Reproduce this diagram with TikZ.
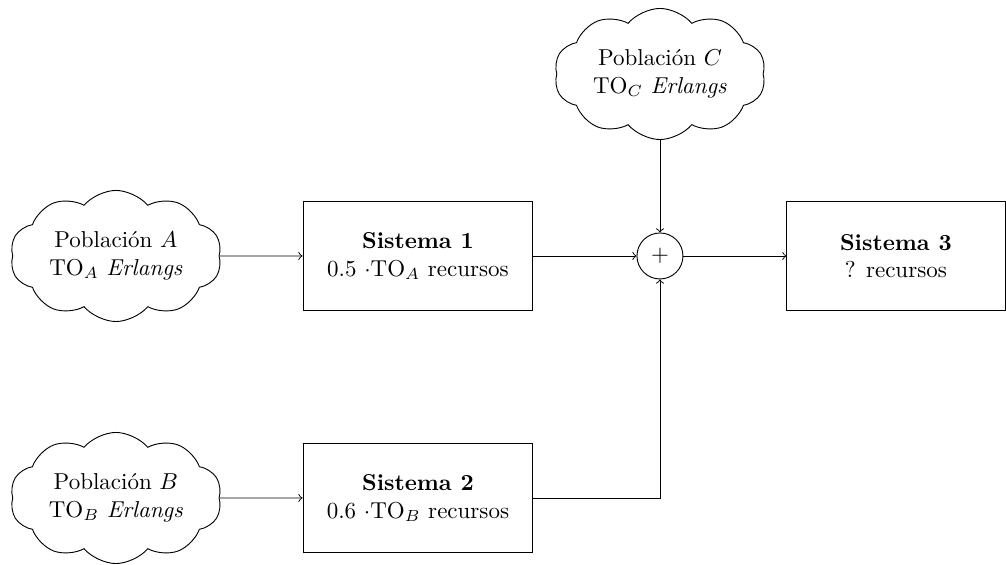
\documentclass[tikz,border=0pt]{standalone}
\usepackage{tikz}
\usetikzlibrary{shapes.symbols}

\tikzset{every picture/.style={line width=0.4pt}}
\tikzset{
	poblacion/.style={draw, cloud, cloud puffs=10, cloud puff arc=100, cloud ignores aspect, minimum width=92pt, minimum height=57pt, inner sep=0pt, align=center},
	sistema/.style={draw, rectangle, minimum width=100pt, minimum height=47pt, align=center},
	sumador/.style={draw, circle, minimum size=20pt, inner sep=0pt}
}

\begin{document}
\begin{tikzpicture}[x=0.75pt,y=0.75pt,yscale=-1,xscale=1]
	\useasboundingbox (0,0) rectangle (583.2,327);
	%Poblaciones
	\node [poblacion] (pobA) at (67.2,148.4) {Población $A$\\ TO$_A$ \textit{Erlangs}};
	\node [poblacion] (pobB) at (67.2,288.7) {Población $B$\\ TO$_B$ \textit{Erlangs}};
	\node [poblacion] (pobC) at (382.6,42.9) {Población $C$\\ TO$_C$ \textit{Erlangs}};
	%Sistemas
	\node [sistema] (sis1) at (242.3,148.4) {\textbf{Sistema 1}\\ $0.5$ $\cdot$TO$_A$ recursos};
	\node [sistema] (sis2) at (242.3,288.7) {\textbf{Sistema 2}\\ $0.6$ $\cdot$TO$_B$ recursos};
	\node [sistema, minimum width=94.8pt] (sis3) at (519.4,148.4) {\textbf{Sistema 3}\\ ? recursos};
	%Suma
	\node [sumador] (suma) at (382.6,148.4) {$+$};
	%Conexiones
	\draw [->] (pobA) -- (sis1);
	\draw [->] (pobB) -- (sis2);
	\draw [->] (sis1) -- (suma);
	\draw [->] (pobC) -- (suma);
	\draw [->] (sis2) -| (suma);
	\draw [->] (suma) -- (sis3);
\end{tikzpicture}
\end{document}
